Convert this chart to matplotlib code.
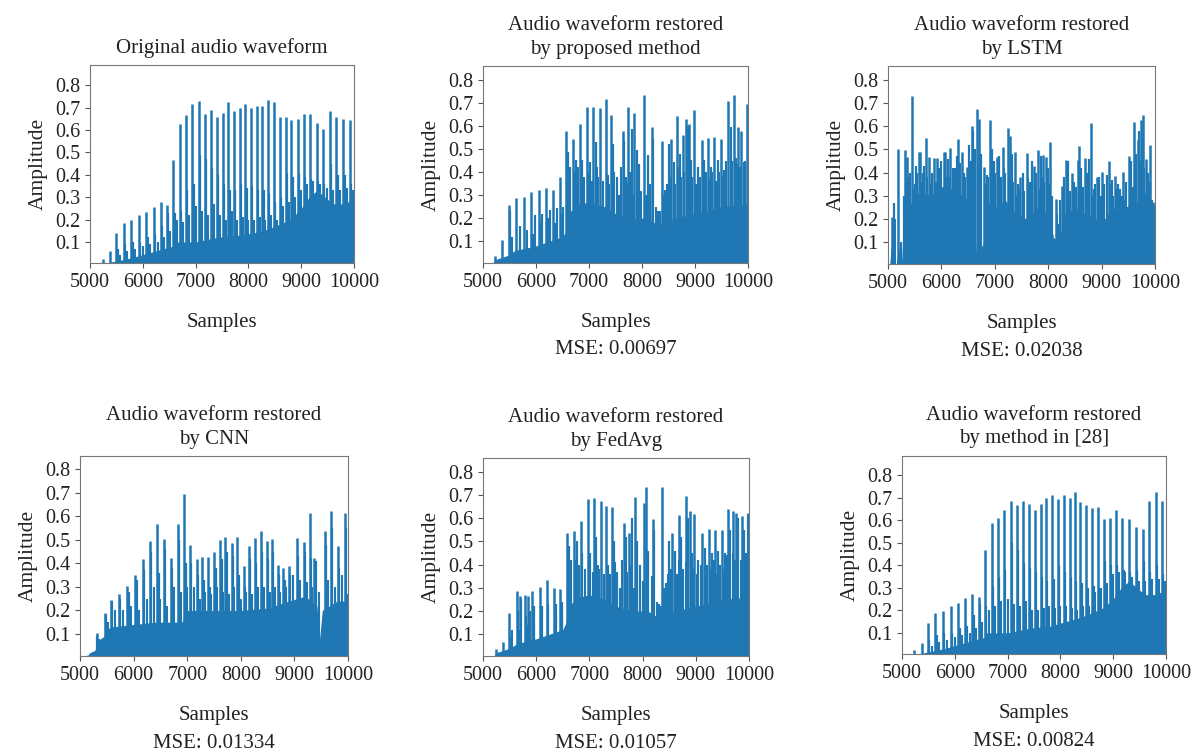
import numpy as np
import matplotlib.pyplot as plt

plt.rcParams['font.family'] = ['Liberation Serif', 'DejaVu Serif']

# ---- original audio waveform
orig_peak_x = [5245, 5380, 5500, 5640, 5775, 5920, 6065, 6205, 6340, 6450, 6580, 6700, 6820, 6940, 7060, 7170, 7290, 7400, 7515, 7620,
               7725, 7840, 7940, 8050, 8155, 8265, 8370, 8480, 8590, 8705, 8815, 8935, 9055, 9165, 9295, 9415, 9540, 9665, 9800, 9920]
orig_peak_y = [0.022, 0.06, 0.142, 0.183, 0.197, 0.221, 0.235, 0.254, 0.277, 0.263, 0.468, 0.628, 0.666, 0.716, 0.731, 0.671, 0.690, 0.656, 0.675, 0.723,
               0.683, 0.696, 0.714, 0.698, 0.708, 0.708, 0.735, 0.727, 0.656, 0.660, 0.645, 0.648, 0.673, 0.673, 0.630, 0.603, 0.685, 0.656, 0.648, 0.643]
orig_mid_x = [5530, 5670, 5805, 5950, 6095, 6235, 6370, 6480, 6605, 6725, 6845, 6965, 7085, 7195, 7315, 7425, 7540, 7645, 7750,
              7865, 7965, 8075, 8180, 8290, 8395, 8505, 8615, 8730, 8840, 8960, 9080, 9190, 9320, 9440, 9565, 9690, 9825, 9945]
orig_mid_y = [0.07, 0.09, 0.10, 0.10, 0.12, 0.13, 0.17, 0.23, 0.23, 0.24, 0.33, 0.36, 0.49, 0.47, 0.43, 0.40, 0.36, 0.33, 0.33,
              0.36, 0.34, 0.35, 0.33, 0.33, 0.32, 0.28, 0.30, 0.41, 0.39, 0.41, 0.39, 0.38, 0.37, 0.36, 0.45, 0.40, 0.40, 0.36]
orig_low_x = [5560, 5700, 5850, 6000, 6130, 6280, 6400, 6520, 6640, 6760, 6880, 7000, 7120, 7230, 7350, 7460, 7570, 7680, 7790,
              7900, 8000, 8110, 8220, 8320, 8430, 8540, 8650, 8760, 8880, 9000, 9110, 9230, 9350, 9480, 9600, 9730, 9860, 9980]
orig_low_y = [0.04, 0.06, 0.07, 0.08, 0.09, 0.10, 0.12, 0.15, 0.20, 0.19, 0.22, 0.26, 0.24, 0.22, 0.27, 0.22, 0.20, 0.24, 0.20,
              0.21, 0.20, 0.20, 0.21, 0.20, 0.22, 0.20, 0.26, 0.28, 0.30, 0.33, 0.36, 0.37, 0.36, 0.34, 0.33, 0.33, 0.34, 0.33]
orig_floor_x = [5000, 5200, 5260, 5500, 5800, 6100, 6400, 6560, 6600, 7000, 7400, 7800, 8100, 8400, 8600, 8800, 9000, 9150, 9300, 9450, 9600, 9800, 10000]
orig_floor_y = [0.0, 0.0, 0.005, 0.015, 0.03, 0.05, 0.07, 0.08, 0.10, 0.10, 0.12, 0.13, 0.14, 0.16, 0.18, 0.20, 0.25, 0.30, 0.33, 0.30, 0.27, 0.27, 0.29]

# ---- proposed method
prop_peak_x = [5230, 5365, 5485, 5620, 5765, 5905, 6055, 6190, 6330, 6445, 6570, 6695, 6835, 6960, 7080, 7215, 7315, 7410, 7635, 7745,
               7855, 8045, 8190, 8375, 8545, 8660, 8770, 8825, 8890, 8985, 9135, 9240, 9365, 9495, 9620, 9745, 9810, 9875, 9980]
prop_peak_y = [0.038, 0.107, 0.258, 0.287, 0.294, 0.312, 0.322, 0.33, 0.322, 0.38, 0.578, 0.545, 0.61, 0.681, 0.684, 0.678, 0.717, 0.648, 0.58, 0.681,
               0.657, 0.734, 0.595, 0.537, 0.545, 0.645, 0.563, 0.631, 0.609, 0.671, 0.538, 0.549, 0.552, 0.545, 0.71, 0.734, 0.595, 0.58, 0.695]
prop_mid_x = [5505, 5695, 5975, 6110, 6255, 6390, 6505, 6600, 6645, 6760, 6875, 7015, 7125, 7170, 7360, 7445, 7520, 7660, 7710, 7805,
              7900, 7950, 8120, 8215, 8310, 8435, 8500, 8595, 8710, 8860, 8925, 9050, 9175, 9305, 9430, 9545, 9670, 9795, 9925, 9995]
prop_mid_y = [0.23, 0.165, 0.215, 0.22, 0.236, 0.243, 0.25, 0.487, 0.423, 0.451, 0.451, 0.444, 0.53, 0.38, 0.387, 0.523, 0.38, 0.537, 0.351, 0.588,
              0.495, 0.437, 0.473, 0.545, 0.23, 0.322, 0.523, 0.444, 0.48, 0.602, 0.451, 0.423, 0.451, 0.423, 0.451, 0.408, 0.595, 0.437, 0.444, 0.616]
prop_low_x = [5550, 5700, 5830, 5950, 6080, 6220, 6360, 6470, 6620, 6720, 6800, 6900, 6990, 7050, 7150, 7260, 7380, 7470, 7560, 7600,
              7690, 7780, 7830, 7990, 8080, 8160, 8260, 8340, 8400, 8470, 8530, 8630, 8680, 8740, 8800, 8950, 9020, 9100, 9200, 9270,
              9330, 9400, 9460, 9520, 9580, 9700, 9770, 9850, 9950]
prop_low_y = [0.12, 0.10, 0.15, 0.13, 0.18, 0.20, 0.18, 0.22, 0.38, 0.40, 0.42, 0.38, 0.40, 0.36, 0.42, 0.36, 0.35, 0.40, 0.30, 0.42,
              0.38, 0.40, 0.30, 0.32, 0.30, 0.35, 0.25, 0.23, 0.30, 0.35, 0.38, 0.35, 0.42, 0.38, 0.40, 0.38, 0.35, 0.38, 0.40, 0.37,
              0.40, 0.36, 0.40, 0.38, 0.45, 0.45, 0.46, 0.42, 0.45]
prop_floor_x = [5000, 5180, 5220, 5350, 5480, 5600, 6000, 6500, 6560, 6600, 6800, 7000, 7300, 7500, 7800, 8100, 8300, 8600, 9000, 9500, 10000]
prop_floor_y = [0.0, 0.0, 0.02, 0.03, 0.04, 0.06, 0.08, 0.12, 0.14, 0.22, 0.26, 0.27, 0.25, 0.22, 0.20, 0.20, 0.17, 0.20, 0.22, 0.25, 0.26]

# ---- LSTM
lstm_peak_x = [5075, 5185, 5310, 5355, 5450, 5575, 5605, 5710, 5760, 5870, 5915, 6040, 6070, 6165, 6320, 6385, 6475, 6570, 6665, 6705,
               6795, 6915, 7035, 7160, 7245, 7285, 7380, 7475, 7600, 7735, 7815, 7910, 7955, 8035, 8140, 8250, 8325, 8440, 8550, 8575,
               8690, 8800, 8905, 9000, 9135, 9250, 9405, 9515, 9610, 9675, 9735, 9780, 9840, 9915, 9965]
lstm_peak_y = [0.21, 0.50, 0.497, 0.466, 0.73, 0.487, 0.487, 0.549, 0.466, 0.463, 0.463, 0.49, 0.487, 0.506, 0.544, 0.487, 0.423, 0.60, 0.673, 0.63,
               0.423, 0.626, 0.466, 0.511, 0.594, 0.559, 0.49, 0.383, 0.484, 0.429, 0.497, 0.477, 0.466, 0.533, 0.287, 0.344, 0.454, 0.397, 0.456, 0.516,
               0.463, 0.614, 0.38, 0.404, 0.451, 0.387, 0.404, 0.473, 0.62, 0.54, 0.626, 0.647, 0.459, 0.52, 0.273]
lstm_mid_x = [5120, 5250, 5300, 5400, 5500, 5530, 5650, 5680, 5800, 5950, 6000, 6100, 6130, 6250, 6290, 6420, 6520, 6600, 6630, 6750,
              6850, 6950, 6990, 7080, 7200, 7320, 7430, 7520, 7650, 7700, 7780, 7860, 7990, 8080, 8200, 8300, 8380, 8480, 8520, 8620,
              8720, 8760, 8850, 8950, 9050, 9100, 9200, 9300, 9350, 9450, 9550, 9640, 9700, 9760, 9860, 9900, 9980]
lstm_mid_y = [0.27, 0.10, 0.30, 0.38, 0.35, 0.43, 0.40, 0.43, 0.35, 0.42, 0.45, 0.38, 0.46, 0.42, 0.47, 0.40, 0.52, 0.58, 0.50, 0.48,
              0.39, 0.50, 0.45, 0.47, 0.40, 0.48, 0.35, 0.40, 0.36, 0.45, 0.40, 0.47, 0.42, 0.30, 0.18, 0.38, 0.45, 0.36, 0.34, 0.42,
              0.40, 0.46, 0.33, 0.38, 0.35, 0.39, 0.37, 0.35, 0.33, 0.36, 0.45, 0.48, 0.58, 0.55, 0.40, 0.35, 0.26]
lstm_low_x = [5140, 5330, 5420, 5480, 5550, 5630, 5730, 5830, 5900, 5980, 6060, 6150, 6210, 6270, 6350, 6450, 6500, 6550, 6680, 6820,
              6880, 6930, 7010, 7060, 7120, 7180, 7260, 7350, 7410, 7460, 7550, 7620, 7680, 7750, 7830, 7880, 7930, 8010, 8160, 8230,
              8280, 8350, 8410, 8460, 8590, 8650, 8740, 8830, 8880, 8980, 9030, 9160, 9220, 9280, 9380, 9430, 9490, 9580, 9620, 9720,
              9800, 9880, 9940]
lstm_low_y = [0.20, 0.36, 0.40, 0.33, 0.40, 0.36, 0.38, 0.40, 0.36, 0.42, 0.40, 0.38, 0.42, 0.36, 0.44, 0.38, 0.40, 0.45, 0.42, 0.35,
              0.38, 0.42, 0.40, 0.35, 0.38, 0.42, 0.40, 0.36, 0.30, 0.33, 0.32, 0.38, 0.30, 0.36, 0.33, 0.38, 0.36, 0.35, 0.22, 0.28,
              0.33, 0.36, 0.32, 0.30, 0.36, 0.34, 0.32, 0.30, 0.35, 0.30, 0.33, 0.35, 0.30, 0.33, 0.30, 0.28, 0.25, 0.34, 0.40, 0.45,
              0.42, 0.36, 0.28]
lstm_floor_x = [5000, 5030, 5060, 5100, 5150, 5200, 5250, 5280, 5350, 5450, 5600, 5800, 6000, 6200, 6400, 6600, 6650, 6700, 6750, 6800,
                6850, 7000, 7200, 7400, 7600, 7800, 8000, 8100, 8200, 8300, 8500, 8700, 8900, 9000, 9200, 9400, 9500, 9600, 9800, 9950, 10000]
lstm_floor_y = [0.0, 0.0, 0.08, 0.03, 0.0, 0.08, 0.0, 0.12, 0.22, 0.28, 0.32, 0.30, 0.34, 0.33, 0.30, 0.26, 0.05, 0.25, 0.08, 0.10,
                0.28, 0.25, 0.28, 0.22, 0.20, 0.25, 0.22, 0.12, 0.10, 0.22, 0.25, 0.22, 0.20, 0.18, 0.25, 0.22, 0.12, 0.25, 0.32, 0.25, 0.15]

# ---- CNN
cnn_peak_x = [5310, 5460, 5570, 5730, 5885, 6030, 6170, 6300, 6440, 6565, 6690, 6820, 6945, 7050, 7175, 7285, 7395, 7505, 7615, 7710,
              7835, 7930, 8055, 8150, 8260, 8370, 8480, 8580, 8685, 8790, 8895, 9045, 9170, 9285, 9375, 9565, 9675, 9820, 9945]
cnn_peak_y = [0.104, 0.187, 0.246, 0.27, 0.303, 0.35, 0.417, 0.495, 0.569, 0.504, 0.424, 0.569, 0.694, 0.478, 0.42, 0.427, 0.427, 0.448, 0.498, 0.512,
              0.488, 0.512, 0.388, 0.474, 0.506, 0.537, 0.495, 0.502, 0.395, 0.381, 0.388, 0.506, 0.49, 0.616, 0.424, 0.537, 0.623, 0.474, 0.616]
cnn_mid_x = [5320, 5480, 5600, 5750, 5910, 6060, 6200, 6330, 6470, 6590, 6720, 6840, 6970, 7080, 7200, 7310, 7420, 7530, 7640, 7740,
             7860, 7960, 8080, 8180, 8280, 8400, 8500, 8600, 8710, 8820, 8920, 9070, 9200, 9310, 9400, 9590, 9700, 9840, 9960]
cnn_mid_y = [0.09, 0.18, 0.24, 0.25, 0.28, 0.33, 0.37, 0.45, 0.36, 0.46, 0.38, 0.50, 0.40, 0.40, 0.35, 0.33, 0.30, 0.38, 0.42, 0.45,
             0.43, 0.35, 0.30, 0.42, 0.40, 0.45, 0.42, 0.45, 0.35, 0.33, 0.35, 0.43, 0.45, 0.42, 0.41, 0.48, 0.55, 0.38, 0.55]
cnn_low_x = [5350, 5520, 5650, 5800, 5950, 6100, 6250, 6380, 6500, 6630, 6760, 6880, 7000, 7120, 7230, 7340, 7450, 7560, 7670, 7780,
             7880, 8000, 8100, 8210, 8320, 8430, 8540, 8640, 8740, 8850, 8970, 9110, 9240, 9330, 9450, 9630, 9760, 9880, 9990]
cnn_low_y = [0.08, 0.15, 0.20, 0.20, 0.22, 0.20, 0.25, 0.30, 0.25, 0.22, 0.30, 0.28, 0.30, 0.30, 0.25, 0.28, 0.27, 0.30, 0.28, 0.27,
             0.30, 0.25, 0.28, 0.27, 0.30, 0.30, 0.28, 0.30, 0.28, 0.30, 0.35, 0.33, 0.32, 0.30, 0.28, 0.33, 0.30, 0.35, 0.27]
cnn_floor_x = [5000, 5150, 5180, 5280, 5320, 5450, 5500, 5600, 6000, 6400, 6900, 7000, 7500, 8000, 8500, 8900, 9200, 9420, 9470, 9520, 9800, 10000]
cnn_floor_y = [0.004, 0.01, 0.02, 0.03, 0.07, 0.09, 0.12, 0.13, 0.14, 0.15, 0.15, 0.20, 0.20, 0.20, 0.21, 0.24, 0.26, 0.22, 0.08, 0.20, 0.24, 0.24]

# ---- FedAvg
fed_peak_x = [5245, 5385, 5495, 5635, 5700, 5790, 5855, 5930, 6075, 6210, 6340, 6455, 6580, 6705, 6845, 6970, 7095, 7210, 7315, 7430, 7650,
              7750, 7855, 8025, 8070, 8190, 8370, 8555, 8685, 8825, 8885, 8975, 9120, 9245, 9370, 9495, 9610, 9705, 9760, 9860, 9975]
fed_peak_y = [0.037, 0.068, 0.192, 0.288, 0.266, 0.269, 0.263, 0.288, 0.302, 0.332, 0.298, 0.295, 0.535, 0.546, 0.589, 0.682, 0.686, 0.675, 0.653, 0.65, 0.581,
              0.538, 0.692, 0.667, 0.735, 0.596, 0.735, 0.538, 0.613, 0.696, 0.631, 0.617, 0.538, 0.553, 0.55, 0.55, 0.639, 0.632, 0.624, 0.61, 0.624]
fed_mid_x = [5270, 5520, 5660, 5720, 5800, 5880, 5960, 6100, 6230, 6370, 6480, 6610, 6650, 6760, 6870, 7010, 7130, 7180, 7350, 7460,
             7520, 7680, 7700, 7800, 7900, 7950, 8100, 8220, 8300, 8440, 8500, 8600, 8720, 8860, 8930, 9050, 9170, 9300, 9420, 9540,
             9650, 9730, 9800, 9900, 9990]
fed_mid_y = [0.02, 0.09, 0.20, 0.25, 0.18, 0.20, 0.22, 0.22, 0.23, 0.23, 0.24, 0.48, 0.42, 0.50, 0.45, 0.45, 0.52, 0.38, 0.40, 0.50,
             0.37, 0.52, 0.35, 0.60, 0.50, 0.40, 0.46, 0.55, 0.23, 0.32, 0.50, 0.46, 0.52, 0.60, 0.45, 0.42, 0.47, 0.45, 0.46, 0.45,
             0.55, 0.42, 0.60, 0.55, 0.62]
fed_low_x = [5550, 5690, 5830, 5950, 6090, 6230, 6370, 6480, 6630, 6730, 6810, 6910, 7000, 7060, 7160, 7270, 7390, 7480, 7570, 7610,
             7700, 7790, 7840, 8000, 8090, 8170, 8270, 8340, 8410, 8480, 8540, 8640, 8690, 8750, 8810, 8950, 9030, 9100, 9210, 9280,
             9340, 9400, 9460, 9530, 9590, 9690, 9780, 9850, 9950]
fed_low_y = [0.12, 0.12, 0.14, 0.13, 0.17, 0.20, 0.19, 0.22, 0.40, 0.42, 0.40, 0.38, 0.42, 0.37, 0.40, 0.36, 0.36, 0.41, 0.30, 0.42,
             0.37, 0.40, 0.30, 0.33, 0.31, 0.35, 0.24, 0.22, 0.30, 0.36, 0.38, 0.36, 0.42, 0.38, 0.41, 0.38, 0.36, 0.40, 0.40, 0.38,
             0.42, 0.36, 0.40, 0.38, 0.44, 0.45, 0.44, 0.42, 0.45]
fed_floor_x = [5000, 5200, 5240, 5380, 5500, 5650, 6000, 6500, 6560, 6600, 6800, 7000, 7300, 7500, 7800, 8100, 8300, 8600, 9000, 9500, 10000]
fed_floor_y = [0.0, 0.0, 0.02, 0.03, 0.04, 0.06, 0.08, 0.12, 0.15, 0.22, 0.26, 0.27, 0.25, 0.22, 0.20, 0.20, 0.17, 0.20, 0.22, 0.25, 0.26]

# ---- method in [28]
ref_peak_x = [5235, 5375, 5490, 5630, 5775, 5920, 6065, 6200, 6330, 6455, 6575, 6700, 6820, 6935, 7060, 7175, 7290, 7405, 7515, 7625,
              7730, 7845, 7950, 8065, 8175, 8270, 8380, 8490, 8605, 8710, 8825, 8935, 9050, 9175, 9300, 9435, 9555, 9675, 9810, 9925]
ref_peak_y = [0.022, 0.055, 0.142, 0.186, 0.198, 0.221, 0.234, 0.254, 0.273, 0.261, 0.467, 0.586, 0.611, 0.645, 0.686, 0.668, 0.686, 0.671, 0.644, 0.671,
              0.698, 0.712, 0.696, 0.712, 0.70, 0.727, 0.683, 0.666, 0.653, 0.66, 0.604, 0.611, 0.645, 0.611, 0.604, 0.571, 0.563, 0.686, 0.726, 0.686]
ref_mid_x = [5520, 5660, 5800, 5945, 6090, 6225, 6360, 6480, 6600, 6725, 6845, 6960, 7085, 7200, 7315, 7430, 7540, 7650, 7755,
             7870, 7975, 8090, 8200, 8295, 8405, 8515, 8630, 8735, 8850, 8960, 9075, 9200, 9325, 9460, 9580, 9700, 9835, 9950]
ref_mid_y = [0.07, 0.09, 0.10, 0.10, 0.12, 0.13, 0.18, 0.23, 0.22, 0.31, 0.35, 0.38, 0.50, 0.47, 0.41, 0.39, 0.37, 0.35, 0.33,
             0.34, 0.40, 0.37, 0.35, 0.33, 0.32, 0.30, 0.31, 0.30, 0.42, 0.40, 0.40, 0.38, 0.37, 0.38, 0.42, 0.37, 0.40, 0.36]
ref_low_x = [5560, 5700, 5850, 6000, 6130, 6280, 6400, 6520, 6640, 6760, 6880, 7000, 7120, 7230, 7350, 7460, 7570, 7680, 7790,
             7900, 8000, 8110, 8220, 8320, 8430, 8540, 8650, 8760, 8880, 9000, 9110, 9230, 9350, 9480, 9600, 9730, 9860, 9980]
ref_low_y = [0.04, 0.06, 0.07, 0.08, 0.09, 0.10, 0.12, 0.15, 0.20, 0.22, 0.24, 0.25, 0.23, 0.22, 0.24, 0.20, 0.20, 0.21, 0.22,
             0.21, 0.22, 0.22, 0.21, 0.20, 0.22, 0.22, 0.28, 0.30, 0.32, 0.36, 0.37, 0.37, 0.35, 0.33, 0.33, 0.34, 0.34, 0.33]
ref_floor_x = [5000, 5200, 5260, 5500, 5800, 6100, 6400, 6560, 6600, 7000, 7400, 7800, 8100, 8400, 8600, 8800, 9000, 9150, 9300, 9450, 9600, 9800, 10000]
ref_floor_y = [0.0, 0.0, 0.005, 0.015, 0.03, 0.05, 0.07, 0.08, 0.10, 0.10, 0.12, 0.13, 0.15, 0.17, 0.19, 0.21, 0.25, 0.30, 0.33, 0.30, 0.27, 0.27, 0.29]

titles = ['Original audio waveform',
          'Audio waveform restored\nby proposed method',
          'Audio waveform restored\nby LSTM',
          'Audio waveform restored\nby CNN',
          'Audio waveform restored\nby FedAvg',
          'Audio waveform restored\nby method in [28]']
mse = [None, '0.00697', '0.02038', '0.01334', '0.01057', '0.00824']
xticks = [5000, 6000, 7000, 8000, 9000, 10000]
yticks = [0.1, 0.2, 0.3, 0.4, 0.5, 0.6, 0.7, 0.8]

panels = [
    (orig_peak_x, orig_peak_y, orig_mid_x, orig_mid_y, orig_low_x, orig_low_y, orig_floor_x, orig_floor_y),
    (prop_peak_x, prop_peak_y, prop_mid_x, prop_mid_y, prop_low_x, prop_low_y, prop_floor_x, prop_floor_y),
    (lstm_peak_x, lstm_peak_y, lstm_mid_x, lstm_mid_y, lstm_low_x, lstm_low_y, lstm_floor_x, lstm_floor_y),
    (cnn_peak_x, cnn_peak_y, cnn_mid_x, cnn_mid_y, cnn_low_x, cnn_low_y, cnn_floor_x, cnn_floor_y),
    (fed_peak_x, fed_peak_y, fed_mid_x, fed_mid_y, fed_low_x, fed_low_y, fed_floor_x, fed_floor_y),
    (ref_peak_x, ref_peak_y, ref_mid_x, ref_mid_y, ref_low_x, ref_low_y, ref_floor_x, ref_floor_y),
]

# axes boxes in pixels: left, top, right, bottom
W, H = 1196, 752
boxes = [(90, 65, 354, 263), (483, 66, 748, 263), (888, 66, 1155, 264),
         (80, 456, 348, 656), (483, 458, 749, 656), (902, 456, 1166, 654)]
ytops = [0.89, 0.86, 0.86, 0.857, 0.86, 0.886]

blue = '#1f77b4'
fig = plt.figure(figsize=(W / 100, H / 100), dpi=100)

for i, (px, py, mx, my, lx, ly, fx, fy) in enumerate(panels):
    l, t, r, b = boxes[i]
    ax = fig.add_axes([l / W, 1 - b / H, (r - l) / W, (b - t) / H])
    ax.fill_between(fx, 0, fy, color=blue, lw=0)
    ax.vlines(lx, 0, ly, color=blue, lw=1.5)
    ax.vlines(mx, 0, my, color=blue, lw=1.6)
    ax.vlines(px, 0, py, color=blue, lw=1.8)
    ax.set_xlim(5000, 10000)
    ax.set_ylim(0.006, ytops[i])
    ax.set_xticks(xticks)
    ax.set_yticks(yticks)
    ax.tick_params(labelsize=14.5, color='#555555', length=3.5, labelcolor='#222222')
    for s in ax.spines.values():
        s.set_color('#777777')
    ax.set_title(titles[i], fontsize=15, pad=9, color='#222222', linespacing=1.3)
    ax.set_xlabel('Samples', fontsize=15, labelpad=15, color='#222222')
    ax.set_ylabel('Amplitude', fontsize=15.5, labelpad=5, color='#222222')
    if mse[i]:
        ax.annotate('MSE: ' + mse[i], xy=(0.5, 0), xycoords='axes fraction',
                    xytext=(0, -87), textcoords='offset pixels',
                    ha='center', va='center', fontsize=15, color='#222222')

fig.savefig('out.png', dpi=100)
